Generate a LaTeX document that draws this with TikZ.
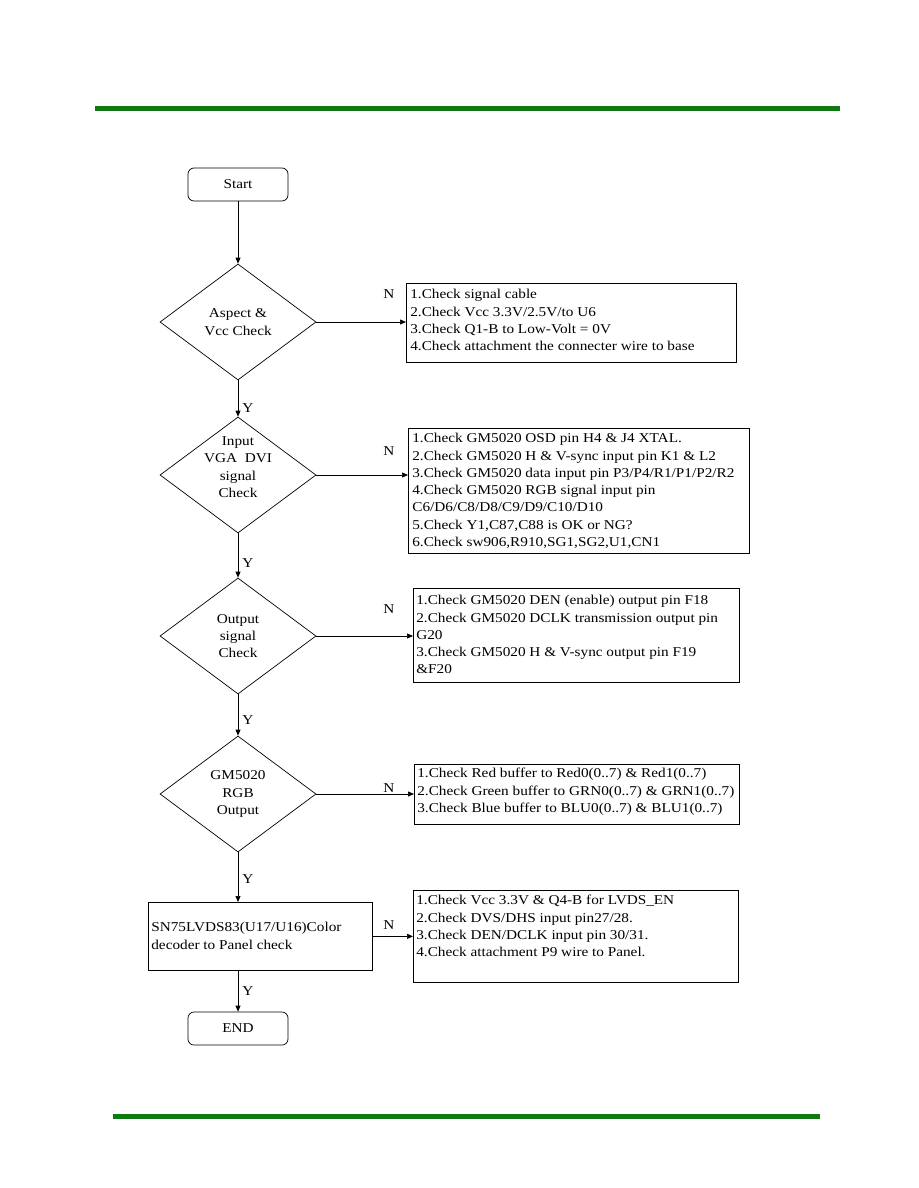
\documentclass[tikz,border=0pt]{standalone}
\usepackage{fontspec}
\setmainfont{Liberation Serif}[FakeStretch=1.13]
\usetikzlibrary{shapes.geometric,arrows.meta}
\definecolor{hdrgreen}{RGB}{16,120,16}
\newcommand\fs{\fontsize{13.5}{17.3}\selectfont}
\begin{document}
\begin{tikzpicture}[x=1pt,y=-1pt, line width=0.7pt,
 term/.style={draw, rounded corners=6pt, minimum width=100pt, minimum height=33pt, inner sep=0pt, font=\fs},
 dec/.style={draw, diamond, minimum width=156pt, minimum height=116pt, inner sep=0pt},
 chk/.style={draw, rectangle, inner sep=0pt, anchor=north west},
 lbl/.style={font=\fs, align=center, inner sep=0pt},
 lst/.style={anchor=north west, align=left, font=\fs, inner sep=0pt},
 arr/.style={-{Triangle[length=6pt,width=5pt]}},
 yn/.style={font=\fs, inner sep=0pt},
 band/.style={draw=hdrgreen, line width=5pt}]
\useasboundingbox (0,0) rectangle (918,1188);
% green bands
\coordinate (tl) at (95,109);
\coordinate (tr) at (840,109);
\coordinate (bl) at (113,1116);
\coordinate (br) at (820,1116);
\draw[band] (tl) -- (tr);
\draw[band] (bl) -- (br);
% main flow
\node[term] (start) at (238,184.5) {Start};
\node[dec] (d1) at (238,322) {};
\node[lbl] (d1t) at (238,322) {Aspect \&\\Vcc Check};
\node[dec] (d2) at (238,475) {};
\node[lbl] (d2t) at (238,467) {Input\\VGA\ \ DVI\\signal\\Check};
\node[dec] (d3) at (238,636) {};
\node[lbl] (d3t) at (238,636) {Output\\signal\\Check};
\node[dec] (d4) at (238,794) {};
\node[lbl] (d4t) at (238,794) {GM5020\\RGB\\Output};
\node[chk, minimum width=224pt, minimum height=68pt] (b5) at (148,902) {};
\node[lst, anchor=west] (b5t) at (151,936) {SN75LVDS83(U17/U16)Color\\decoder to Panel check};
\node[term] (end) at (238,1028.5) {END};
% check boxes
\node[chk, minimum width=330pt, minimum height=79pt] (b1) at (406,283) {};
\node[lst] (b1t) at (410,289) {1.Check signal cable\\2.Check Vcc 3.3V/2.5V/to U6\\3.Check Q1-B to Low-Volt = 0V\\4.Check attachment the connecter wire to base};
\node[chk, minimum width=341pt, minimum height=125pt] (b2) at (408,428) {};
\node[lst] (b2t) at (412,433) {1.Check GM5020 OSD pin H4 \& J4 XTAL.\\2.Check GM5020 H \& V-sync input pin K1 \& L2\\3.Check GM5020 data input pin P3/P4/R1/P1/P2/R2\\4.Check GM5020 RGB signal input pin\\C6/D6/C8/D8/C9/D9/C10/D10\\5.Check Y1,C87,C88 is OK or NG?\\6.Check sw906,R910,SG1,SG2,U1,CN1};
\node[chk, minimum width=326pt, minimum height=94pt] (b3) at (413,588) {};
\node[lst] (b3t) at (416,595) {1.Check GM5020 DEN (enable) output pin F18\\2.Check GM5020 DCLK transmission output pin\\G20\\3.Check GM5020 H \& V-sync output pin F19\\\&F20};
\node[chk, minimum width=325pt, minimum height=60pt] (b4) at (414,764) {};
\node[lst] (b4t) at (417,768) {1.Check Red buffer to Red0(0..7) \& Red1(0..7)\\2.Check Green buffer to GRN0(0..7) \& GRN1(0..7)\\3.Check Blue buffer to BLU0(0..7) \& BLU1(0..7)};
\node[chk, minimum width=325pt, minimum height=92pt] (b6) at (413,890) {};
\node[lst] (b6t) at (416,895) {1.Check Vcc 3.3V \& Q4-B for LVDS\_EN\\2.Check DVS/DHS input pin27/28.\\3.Check DEN/DCLK input pin 30/31.\\4.Check attachment P9 wire to Panel.};
% connectors
\draw[arr] (start.south) -- (d1.north);
\draw[arr] (d1.south) -- (d2.north);
\draw[arr] (d2.south) -- (d3.north);
\draw[arr] (d3.south) -- (d4.north);
\draw[arr] (d4.south) -- (b5.north -| d4.south);
\draw[arr] (b5.south -| end.north) -- (end.north);
\draw[arr] (d1.east) -- (d1.east -| b1.west);
\draw[arr] (d2.east) -- (d2.east -| b2.west);
\draw[arr] (d3.east) -- (d3.east -| b3.west);
\draw[arr] (d4.east) -- (d4.east -| b4.west);
\draw[arr] (b5.east) -- (b5.east -| b6.west);
% Y / N labels
\node[yn] (y1) at (248,408) {Y};
\node[yn] (y2) at (248,563) {Y};
\node[yn] (y3) at (248,720) {Y};
\node[yn] (y4) at (248,879) {Y};
\node[yn] (y5) at (248,991) {Y};
\node[yn] (n1) at (389,294) {N};
\node[yn] (n2) at (389,451) {N};
\node[yn] (n3) at (389,609) {N};
\node[yn] (n4) at (389,788) {N};
\node[yn] (n5) at (389,925) {N};
\end{tikzpicture}
\end{document}
